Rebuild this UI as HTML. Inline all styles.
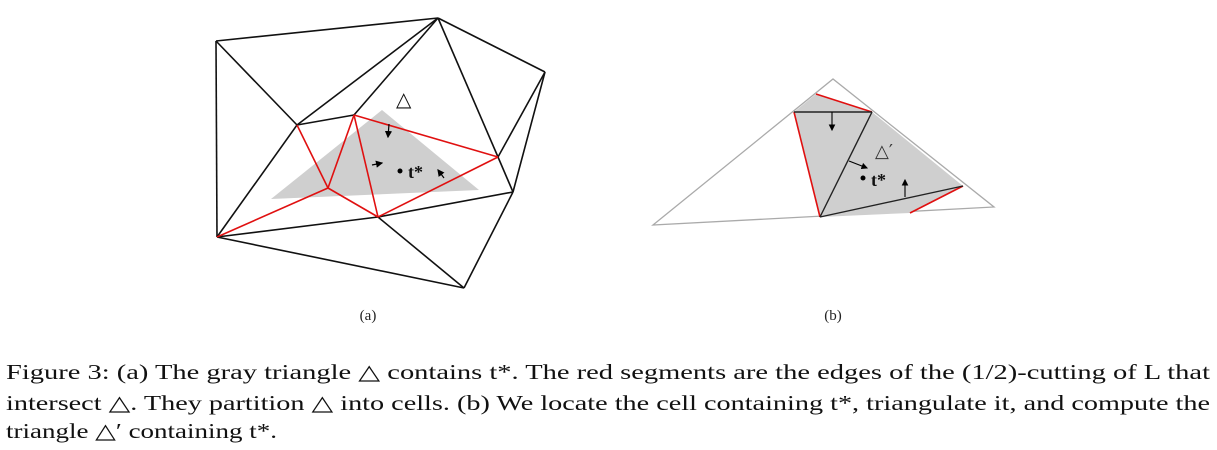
<!DOCTYPE html>
<html><head><meta charset="utf-8"><style>
html,body{margin:0;padding:0;background:#fff;width:1217px;height:450px;overflow:hidden}
</style></head><body>
<svg width="1217" height="450" viewBox="0 0 1217 450" xmlns="http://www.w3.org/2000/svg">
<defs><marker id="ah" markerWidth="6" markerHeight="6" refX="5" refY="3" orient="auto"><path d="M0,0 L6,3 L0,6 z" fill="#000"/></marker></defs>
<!-- (a) -->
<polygon points="382,110 271,199 479,190" fill="#cfcfcf"/>
<g stroke="#111" stroke-width="1.6" fill="none">
<line x1="216" y1="41" x2="438" y2="18"/>
<line x1="216" y1="41" x2="297" y2="125"/>
<line x1="216" y1="41" x2="217" y2="237"/>
<line x1="438" y1="18" x2="297" y2="125"/>
<line x1="438" y1="18" x2="354" y2="115"/>
<line x1="438" y1="18" x2="545" y2="72"/>
<line x1="438" y1="18" x2="498" y2="157"/>
<line x1="545" y1="72" x2="513" y2="192"/>
<line x1="545" y1="72" x2="498" y2="157"/>
<line x1="297" y1="125" x2="354" y2="115"/>
<line x1="297" y1="125" x2="217" y2="237"/>
<line x1="498" y1="157" x2="513" y2="192"/>
<line x1="513" y1="192" x2="378" y2="217"/>
<line x1="217" y1="237" x2="378" y2="217"/>
<line x1="217" y1="237" x2="464" y2="288"/>
<line x1="378" y1="217" x2="464" y2="288"/>
<line x1="513" y1="192" x2="464" y2="288"/>
</g>
<g stroke="#e01010" stroke-width="1.6" fill="none">
<line x1="297" y1="125" x2="328" y2="188"/>
<line x1="328" y1="188" x2="354" y2="115"/>
<line x1="354" y1="115" x2="378" y2="217"/>
<line x1="354" y1="115" x2="498" y2="157"/>
<line x1="498" y1="157" x2="378" y2="217"/>
<line x1="328" y1="188" x2="217" y2="237"/>
<line x1="328" y1="188" x2="378" y2="217"/>
</g>
<g stroke="#000" stroke-width="1.2" marker-end="url(#ah)">
<line x1="389" y1="124" x2="388" y2="137"/>
<line x1="372" y1="165" x2="382" y2="163"/>
<line x1="444" y1="178" x2="438" y2="170"/>
</g>
<text x="396" y="106" font-family="DejaVu Sans,sans-serif" font-size="20" fill="#111">△</text>
<circle cx="400" cy="171" r="2.5" fill="#000"/>
<text x="408" y="178" font-family="Liberation Serif,serif" font-size="18" font-weight="bold" fill="#111">t*</text>
<text x="368" y="320" text-anchor="middle" font-family="Liberation Serif,serif" font-size="15" fill="#222">(a)</text>
<!-- (b) -->
<polygon points="653,225 833,79 994,207" fill="none" stroke="#aaa" stroke-width="1.3"/>
<polygon points="816,94 872,112 963,186 910,213 820,217 794,112" fill="#cfcfcf"/>
<g stroke="#e01010" stroke-width="1.6">
<line x1="816" y1="94" x2="872" y2="112"/>
<line x1="794" y1="112" x2="820" y2="217"/>
<line x1="910" y1="213" x2="963" y2="186"/>
</g>
<g stroke="#222" stroke-width="1.4">
<line x1="794" y1="112" x2="872" y2="112"/>
<line x1="872" y1="112" x2="820" y2="217"/>
<line x1="820" y1="217" x2="963" y2="186"/>
</g>
<g stroke="#000" stroke-width="1.1" marker-end="url(#ah)">
<line x1="832" y1="112" x2="832" y2="130"/>
<line x1="849" y1="161" x2="867" y2="168"/>
<line x1="905" y1="197" x2="905" y2="180"/>
</g>
<text x="875" y="157" font-family="DejaVu Sans,sans-serif" font-size="18" fill="#333">△′</text>
<circle cx="863" cy="178" r="2.5" fill="#000"/>
<text x="871" y="186" font-family="Liberation Serif,serif" font-size="18" font-weight="bold" fill="#111">t*</text>
<text x="833" y="320" text-anchor="middle" font-family="Liberation Serif,serif" font-size="15" fill="#222">(b)</text>
<!-- caption -->
<g font-family="Liberation Serif,serif" font-size="21" fill="#111">
<text x="6" y="379" textLength="1204" lengthAdjust="spacingAndGlyphs">Figure 3: (a) The gray triangle △ contains t*. The red segments are the edges of the (1/2)-cutting of L that</text>
<text x="6" y="410" textLength="1204" lengthAdjust="spacingAndGlyphs">intersect △. They partition △ into cells. (b) We locate the cell containing t*, triangulate it, and compute the</text>
<text x="6" y="438" textLength="271" lengthAdjust="spacingAndGlyphs">triangle △′ containing t*.</text>
</g>
</svg>
</body></html>
